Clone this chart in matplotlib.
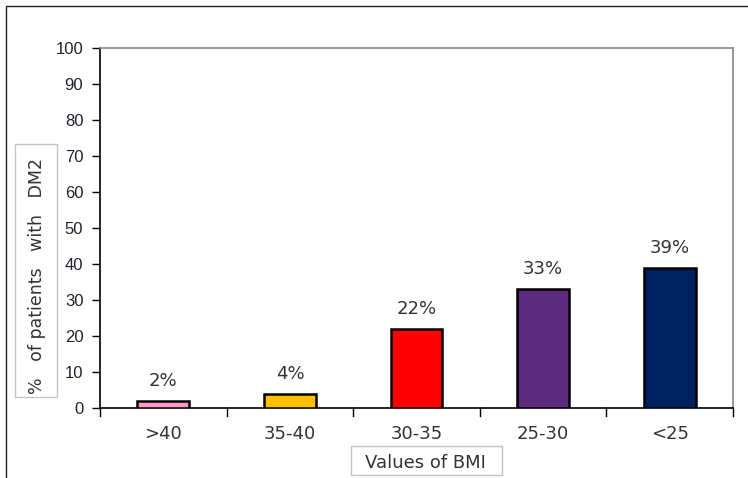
import matplotlib
matplotlib.use("Agg")
import matplotlib.pyplot as plt
from matplotlib.patches import Rectangle

categories = [">40", "35-40", "30-35", "25-30", "<25"]
values = [2, 4, 22, 33, 39]
bar_colors = ["#FF99CC", "#FFC000", "#FF0000", "#5B2A7E", "#002060"]
y_ticks = list(range(0, 101, 10))

W, H = 748, 478
fig = plt.figure(figsize=(W / 100, H / 100), dpi=100)
fig.patch.set_facecolor("white")


def px_rect(x0, y0, x1, y1, **kw):
    """Rectangle given in pixel coordinates measured from the top-left corner."""
    return Rectangle((x0 / W, 1 - y1 / H), (x1 - x0) / W, (y1 - y0) / H,
                     transform=fig.transFigure, **kw)


# outer frame
fig.add_artist(Rectangle((6 / W, -0.1), 1.1, (H - 6) / H + 0.1, transform=fig.transFigure,
                         fill=False, edgecolor="#222222", linewidth=1.0))

left, right, top, bottom = 100, 733, 48, 408
ax = fig.add_axes([left / W, 1 - bottom / H, (right - left) / W, (bottom - top) / H])

x = list(range(len(categories)))
ax.bar(x, values, width=0.41, color=bar_colors, edgecolor="black", linewidth=1.8, zorder=3)

for xi, v in zip(x, values):
    ax.text(xi, v + 3, f"{v}%", ha="center", va="bottom", fontsize=13,
            color="#333333", family="DejaVu Sans")

ax.set_xlim(-0.5, len(categories) - 0.5)
ax.set_ylim(0, 100)
ax.set_yticks(y_ticks)
ax.set_yticklabels([str(t) for t in y_ticks], family="Liberation Sans", fontsize=12,
                   color="#222233")
ax.set_xticks(x)
ax.set_xticklabels(categories, family="DejaVu Sans", fontsize=13, color="#333333")
ax.tick_params(axis="x", length=0, pad=12)
ax.tick_params(axis="y", length=6, width=1, direction="out", pad=6)

# category boundary ticks on x axis
for b in [i - 0.5 for i in range(len(categories) + 1)]:
    ax.plot([b, b], [0, -2.2], color="black", linewidth=1, clip_on=False, zorder=4)

for s in ["top", "right"]:
    ax.spines[s].set_color("#888888")
    ax.spines[s].set_linewidth(1.2)
for s in ["left", "bottom"]:
    ax.spines[s].set_color("black")
    ax.spines[s].set_linewidth(1.2)

# boxed axis titles
fig.add_artist(px_rect(15, 144, 57, 397, facecolor="white", edgecolor="#C4C4C4", linewidth=1))
fig.text(37 / W, 1 - 276 / H, "%   of patients   with   DM2", rotation=90, ha="center",
         va="center", fontsize=12.5, color="#333333", family="DejaVu Sans")
fig.add_artist(px_rect(351, 446, 502, 475, facecolor="white", edgecolor="#C4C4C4", linewidth=1))
fig.text(425 / W, 1 - 463 / H, "Values of BMI", ha="center", va="center", fontsize=13,
         color="#333333", family="DejaVu Sans")

fig.savefig("out.png", dpi=100)
